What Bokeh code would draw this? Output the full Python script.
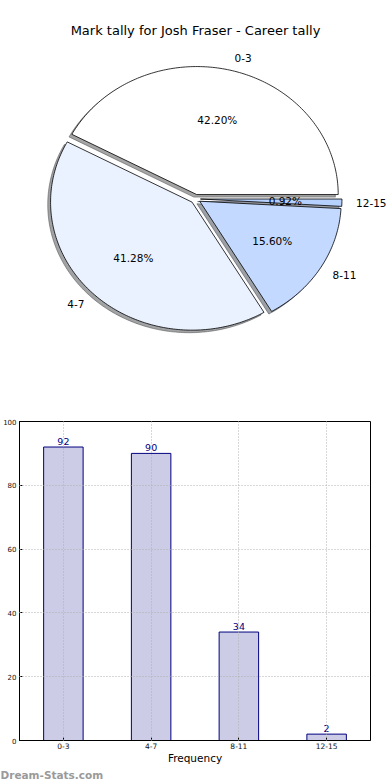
import numpy as np
from bokeh.plotting import figure
from bokeh.models import Range1d, FactorRange, Label, FixedTicker
from bokeh.embed import file_html
from bokeh.resources import INLINE
from bokeh.core.properties import value

# ---------------- data ----------------
title = "Mark tally for Josh Fraser - Career tally"
categories = ["0-3", "4-7", "8-11", "12-15"]
counts = [92, 90, 34, 2]
wedge_colors = ["#ffffff", "#ebf2ff", "#c4d9ff", "#b7d1ff"]
x_label = "Frequency"
y_ticks = [0, 20, 40, 60, 80, 100]
watermark = "Dream-Stats.com"

# ---------------- layout / style constants ----------------
W = 390
PIE_H = 408
BAR_H = 358
WM_H = 780 - PIE_H - BAR_H
RX, RY = 141.5, 128.0      # pixels per unit radius (elliptical pie)
CX, CY = 195.0, 198.4      # pie centre inside pie figure (px from top-left)
EXPLODE = 0.035
SHADOW_DX, SHADOW_DY = -0.02, -0.02
FONT_NAME = "DejaVu Sans"
FONT = value(FONT_NAME)

# ---------------- pie ----------------
pie = figure(width=W, height=PIE_H, output_backend="svg", toolbar_location=None,
             x_range=Range1d(-CX / RX, (W - CX) / RX),
             y_range=Range1d(-(PIE_H - CY) / RY, CY / RY),
             x_axis_location=None, y_axis_location=None, min_border=0)
pie.grid.visible = False
pie.outline_line_color = None
pie.background_fill_color = "white"
pie.border_fill_color = "white"

total = float(sum(counts))
theta = 0.0
wx, wy, shx, shy, shcol = [], [], [], [], []
lab_l, lab_r, pct = [], [], []
for cat, c, col in zip(categories, counts, wedge_colors):
    f = c / total
    t1, t2 = theta, theta + 2 * np.pi * f
    tm = 0.5 * (t1 + t2)
    ox, oy = EXPLODE * np.cos(tm), EXPLODE * np.sin(tm)
    n = max(3, int(np.degrees(t2 - t1))) + 1
    ang = np.linspace(t1, t2, n)
    xs = np.concatenate([[ox], ox + np.cos(ang)])
    ys = np.concatenate([[oy], oy + np.sin(ang)])
    wx.append(list(xs)); wy.append(list(ys))
    shx.append(list(xs + SHADOW_DX)); shy.append(list(ys + SHADOW_DY))
    rgb = [int(col[i:i + 2], 16) for i in (1, 3, 5)]
    shcol.append("#%02x%02x%02x" % tuple(int(0.3 * v) for v in rgb))
    lx, ly = ox + 1.1 * np.cos(tm), oy + 1.1 * np.sin(tm)
    (lab_l if lx > 0 else lab_r).append((lx, ly, cat))
    pct.append((ox + 0.6 * np.cos(tm), oy + 0.6 * np.sin(tm), "%.2f%%" % (100 * f)))
    theta = t2

pie.patches(shx, shy, fill_color=shcol, fill_alpha=0.5, line_color=shcol, line_alpha=0.5)
pie.patches(wx, wy, fill_color=wedge_colors, line_color="black", line_width=0.8)

for group, align in ((lab_l, "left"), (lab_r, "right")):
    if group:
        pie.text(x=[g[0] for g in group], y=[g[1] for g in group], text=[g[2] for g in group],
                 text_align=align, text_baseline="middle", text_font=FONT,
                 text_font_size="10.5px", text_color="black")
pie.text(x=[g[0] for g in pct], y=[g[1] for g in pct], text=[g[2] for g in pct],
         text_align="center", text_baseline="middle", text_font=FONT,
         text_font_size="10.5px", text_color="black")

pie.add_layout(Label(x=0, y=(CY - 29.5) / RY, text=title, text_align="center",
                     text_baseline="middle", text_font=FONT_NAME, text_font_size="13px",
                     text_color="black"))

# ---------------- bars ----------------
ML = 19
bars = figure(width=W, height=BAR_H, output_backend="svg", toolbar_location=None,
              x_range=FactorRange(*categories), y_range=Range1d(0, 100),
              min_border_left=ML, min_border_right=20, min_border_top=13,
              min_border_bottom=BAR_H - 13 - 319)
bars.background_fill_color = "white"
bars.border_fill_color = "white"
bars.outline_line_color = "black"
bars.outline_line_width = 1
bars.outline_line_alpha = 1

bars.vbar(x=categories, top=counts, width=0.45, fill_color="navy", fill_alpha=0.2,
          line_color="navy", line_width=1)
bars.text(x=categories, y=counts, text=[str(c) for c in counts], text_align="center",
          text_baseline="bottom", y_offset=-2, text_color="navy", text_font=FONT,
          text_font_size="9.5px")

bars.yaxis.ticker = FixedTicker(ticks=y_ticks)
for ax in (bars.xaxis[0], bars.yaxis[0]):
    ax.major_tick_in = 3
    ax.major_tick_out = 0
    ax.minor_tick_line_color = None
    ax.axis_line_color = "black"
    ax.major_label_text_font = FONT_NAME
    ax.major_label_text_color = "#111111"
bars.yaxis.major_label_standoff = 3
bars.yaxis.major_label_text_font_size = "7px"
bars.xaxis.major_label_text_font_size = "7.5px"
bars.xaxis.major_label_standoff = 2
bars.xaxis.axis_label = x_label
bars.xaxis.axis_label_text_font = FONT_NAME
bars.xaxis.axis_label_text_font_style = "normal"
bars.xaxis.axis_label_text_font_size = "10.5px"
bars.xaxis.axis_label_text_color = "black"
bars.xaxis.axis_label_standoff = 0

for g in (bars.xgrid[0], bars.ygrid[0]):
    g.grid_line_color = "#b0b0b0"
    g.grid_line_dash = "1 2"
    g.grid_line_width = 1
    g.level = "overlay"

# ---------------- watermark strip ----------------
wm = figure(width=W, height=WM_H, output_backend="svg", toolbar_location=None,
            x_range=Range1d(0, W), y_range=Range1d(0, WM_H),
            x_axis_location=None, y_axis_location=None, min_border=0)
wm.grid.visible = False
wm.outline_line_color = None
wm.background_fill_color = "white"
wm.border_fill_color = "white"
wm.add_layout(Label(x=0, y=WM_H - 8, text=watermark, text_align="left",
                    text_baseline="alphabetic", text_font=FONT_NAME,
                    text_font_size="10.5px", text_font_style="bold", text_color="#9a9a9a"))

open("out.html", "w").write(file_html([pie, bars, wm], INLINE))
